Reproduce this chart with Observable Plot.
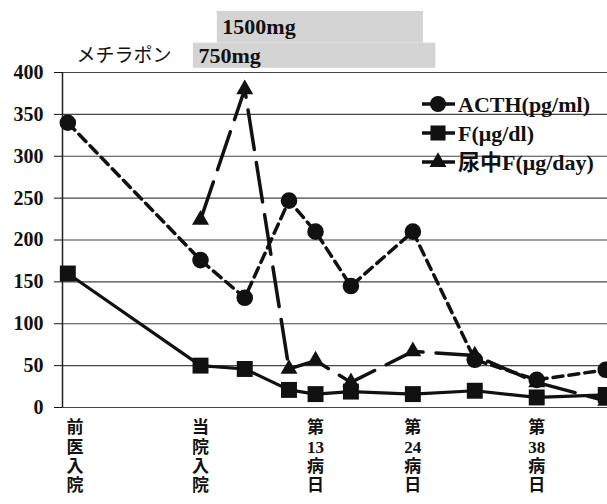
<!DOCTYPE html>
<html><head><meta charset="utf-8">
<script src="https://cdn.jsdelivr.net/npm/d3@7"></script>
<script src="https://cdn.jsdelivr.net/npm/@observablehq/plot@0.6"></script>
<style>
html,body{margin:0;padding:0;background:#fff;overflow:hidden}
#wrap{position:relative;width:607px;height:504px;background:#fff}
#wrap svg{display:block}
#legend{position:absolute;left:0;top:0;pointer-events:none}
</style></head><body><div id="wrap"></div>
<script>
// ---- data ----
const days = [-15, 0, 5, 10, 13, 17, 24, 31, 38, 45.8];
const acth = [340, 176, 131, 247, 210, 145, 210, 57, 33, 45];
const cortisolF = [160, 50, 46, 21, 16, 19, 16, 20, 12, 15];
const urineDays = [0, 5, 10, 13, 17, 24, 31, 38, 45.8];
const urineF = [224, 380, 46, 56, 30, 67, 62, 30, 8];
const seriesNames = ["ACTH(pg/ml)", "F(μg/dl)", "尿中F(μg/day)"];
const yTicks = [0, 50, 100, 150, 200, 250, 300, 350, 400];
const xLabels = ["前\n医\n入\n院", "当\n院\n入\n院", "第\n13\n病\n日", "第\n24\n病\n日", "第\n38\n病\n日"];
const xLabelDays = [-14.2, 0, 13, 24, 38];
const drugName = "メチラポン";
const doses = ["750mg", "1500mg"];
const doseStart = [-0.8, 1.9];
const doseEnd = [26.6, 25.2];

// ---- build tables ----
const xDomain = [-15.6, 46.0];
const acthT = days.map((d, i) => ({day: d, v: acth[i]}));
const fT = days.map((d, i) => ({day: d, v: cortisolF[i]}));
const uT = urineDays.map((d, i) => ({day: d, v: urineF[i]}));
const bandY = [[405, 435], [435, 473]];
const doseT = doses.map((d, i) => ({dose: d, start: doseStart[i], end: doseEnd[i], lo: bandY[i][0], hi: bandY[i][1], mid: (bandY[i][0] + bandY[i][1]) / 2}));
const xLabT = xLabels.map((t, i) => ({t, day: xLabelDays[i]}));

const serif = '"Liberation Serif", "Noto Sans CJK JP", serif';
const ink = "#111";

const plot = Plot.plot({
  width: 607, height: 504,
  marginTop: 72, marginBottom: 97, marginLeft: 62, marginRight: 0,
  style: {background: "#fff", color: ink, overflow: "visible"},
  x: {domain: xDomain, axis: null},
  y: {domain: [0, 400], ticks: yTicks, tickSize: 8, tickPadding: 10, label: null, tickFormat: () => ""},
  marks: [
    Plot.rect(doseT, {x1: "start", x2: "end", y1: "lo", y2: "hi", fill: "#d4d4d4"}),
    Plot.text(doseT, {x: "start", y: "mid", text: "dose", dx: 5, textAnchor: "start", fontFamily: serif, fontWeight: "bold", fontSize: 22, fill: ink}),
    Plot.text([drugName], {x: doseStart[0], y: doseT[0].mid, text: d => d, dx: -22, textAnchor: "end", fontFamily: '"Noto Sans CJK JP", sans-serif', fontSize: 19, fill: ink}),
    Plot.ruleY(yTicks, {stroke: "#444", strokeWidth: 1.2}),
    Plot.ruleX([xDomain[0]], {y1: 0, y2: 400, stroke: "#222", strokeWidth: 1.5}),
    Plot.text(yTicks, {y: d => d, text: d => String(d), frameAnchor: "left", dx: -19, textAnchor: "end", fontFamily: '"Liberation Serif", serif', fontWeight: "bold", fontSize: 20, fill: ink}),
    Plot.line(fT, {x: "day", y: "v", stroke: ink, strokeWidth: 3.2}),
    Plot.line(uT, {x: "day", y: "v", stroke: ink, strokeWidth: 3.5, strokeDasharray: "40,13"}),
    Plot.line(acthT, {x: "day", y: "v", stroke: ink, strokeWidth: 3.5, strokeDasharray: "10,6"}),
    Plot.dot(uT, {x: "day", y: "v", symbol: "triangle", r: 6.3, fill: ink, stroke: "none"}),
    Plot.dot(fT, {x: "day", y: "v", symbol: "square", r: 9, fill: ink, stroke: "none"}),
    Plot.dot(acthT, {x: "day", y: "v", symbol: "circle", r: 8.3, fill: ink, stroke: "none"}),
    Plot.text(xLabT, {x: "day", text: "t", frameAnchor: "bottom", dy: 12, lineAnchor: "top", lineHeight: 1.14, fontFamily: serif, fontWeight: "bold", fontSize: 17, fill: ink})
  ]
});
const wrap = document.getElementById("wrap");
wrap.appendChild(plot);

// ---- legend ----
const lg = d3.create("svg").attr("id", "legend").attr("width", 607).attr("height", 504);
const symbols = [d3.symbolCircle, d3.symbolSquare, d3.symbolTriangle];
const sizes = [Math.PI * 8 * 8, Math.PI * 8.5 * 8.5, Math.PI * 6.3 * 6.3];
const rowY = [104, 133, 162];
seriesNames.forEach((name, i) => {
  const g = lg.append("g").attr("transform", `translate(0,${rowY[i]})`);
  g.append("line").attr("x1", 422).attr("x2", 455).attr("y1", 0).attr("y2", 0).attr("stroke", ink).attr("stroke-width", 3.5);
  g.append("path").attr("d", d3.symbol(symbols[i], sizes[i])()).attr("transform", "translate(438,0)").attr("fill", ink);
  g.append("text").attr("x", 458).attr("y", 0).attr("dy", "0.35em").attr("font-family", serif).attr("font-weight", "bold").attr("font-size", 22).attr("fill", ink).text(name);
});
wrap.appendChild(lg.node());
</script></body></html>
